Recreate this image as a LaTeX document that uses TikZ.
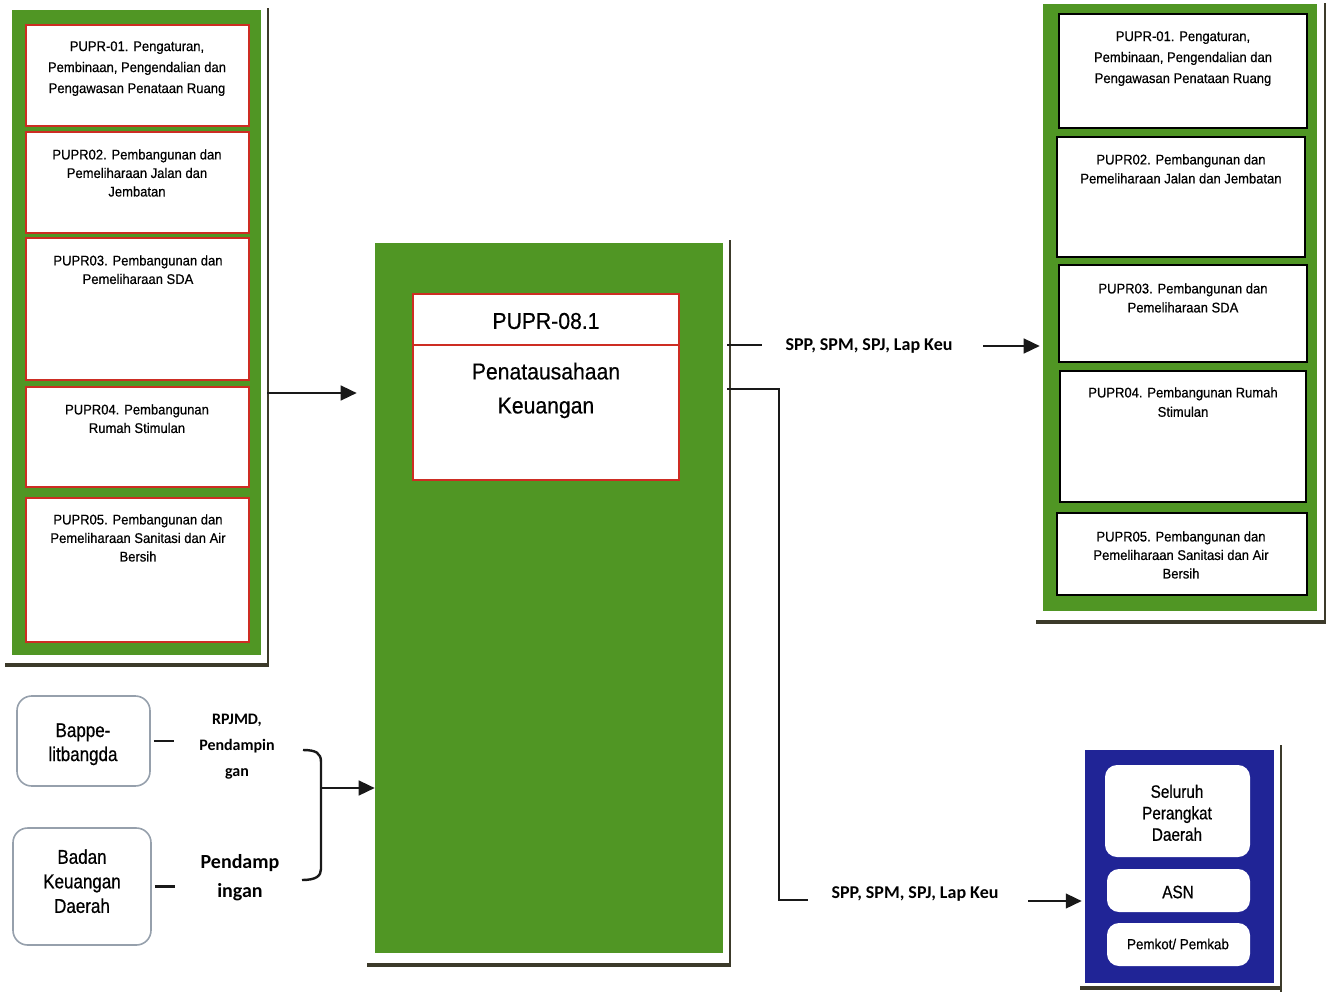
\documentclass[tikz,border=0pt]{standalone}
\usepackage{fontspec}
\setmainfont{Liberation Sans}
\newfontfamily\boxfont{Liberation Sans}[FakeStretch=0.93,FakeBold=0.5]
\newfontfamily\orgfont{Liberation Sans}[FakeStretch=0.85,FakeBold=0.6]
\newfontfamily\titlefont{Liberation Sans}[FakeStretch=0.92,FakeBold=0.5]
\newfontfamily\labelfont{Carlito}
\usetikzlibrary{arrows.meta,fit,calc}
\definecolor{grn}{RGB}{80,150,36}
\definecolor{boxred}{RGB}{205,45,35}
\definecolor{shd}{RGB}{60,58,42}
\definecolor{navy}{RGB}{32,36,150}
\definecolor{orgline}{RGB}{150,160,172}
\begin{document}
\begin{tikzpicture}[x=0.75pt,y=-0.75pt,
  panel/.style={fill=grn, draw=none, inner sep=0pt},
  bluepanel/.style={fill=navy, draw=none, inner sep=0pt},
  redbox/.style={fill=white, draw=boxred, line width=1.1pt, inner sep=0pt},
  finframe/.style={fill=white, draw=boxred, line width=1.5pt, inner sep=0pt},
  blkbox/.style={fill=white, draw=black, line width=2.2pt, inner sep=0pt},
  wbox/.style={fill=white, draw=none, rounded corners=9pt, inner sep=0pt},
  orgbox/.style={fill=white, draw=orgline, line width=1.2pt, rounded corners=11pt, inner sep=0pt},
  shadowR/.style={draw=shd, line width=1.5pt},
  shadowB/.style={draw=shd, line width=2.6pt},
  conn/.style={draw=black!90, line width=1.8pt},
  arr/.style={conn, -{Triangle[length=12pt,width=11pt]}},
  boxtxt/.style={font=\boxfont\fontsize{10.5pt}{13.9pt}\selectfont, align=center, inner sep=0pt, anchor=north},
  boxtxtwide/.style={boxtxt, font=\boxfont\fontsize{10.5pt}{15.75pt}\selectfont},
  orgtxt/.style={font=\orgfont\fontsize{15pt}{18pt}\selectfont, align=center, inner sep=0pt, anchor=north},
  bluetxt/.style={font=\orgfont\fontsize{13.5pt}{16.1pt}\selectfont, align=center, inner sep=0pt},
  smalltxt/.style={font=\titlefont\fontsize{10.9pt}{13pt}\selectfont, inner sep=0pt},
  fintxt/.style={font=\titlefont\fontsize{17.25pt}{25.5pt}\selectfont, align=center, inner sep=0pt},
  flowtxt/.style={font=\labelfont\bfseries\fontsize{13.5pt}{16pt}\selectfont, inner sep=0pt, anchor=base},
]
\useasboundingbox (0,0) rectangle (1330,992);

% ---------- left column of programmes ----------
\draw[shadowR] (268,8) -- (268,667);
\draw[shadowB] (5,665) -- (269,665);
\node[panel, fit={(12,10) (261,655)}] (leftpanel) {};
\node[redbox, fit={(26,25) (249,126)}] (l1) {};
\node[redbox, fit={(26,132) (249,233)}] (l2) {};
\node[redbox, fit={(26,238) (249,380)}] (l3) {};
\node[redbox, fit={(26,387) (249,487)}] (l4) {};
\node[redbox, fit={(26,498) (249,642)}] (l5) {};
\node[boxtxtwide] (l1t) at (137,41) {PUPR-01. Pengaturan,\\Pembinaan, Pengendalian dan\\Pengawasan Penataan Ruang};
\node[boxtxt] (l2t) at (137,149) {PUPR02. Pembangunan dan\\Pemeliharaan Jalan dan\\Jembatan};
\node[boxtxt] (l3t) at (138,255) {PUPR03. Pembangunan dan\\Pemeliharaan SDA};
\node[boxtxt] (l4t) at (137,404) {PUPR04. Pembangunan\\Rumah Stimulan};
\node[boxtxt] (l5t) at (138,514) {PUPR05. Pembangunan dan\\Pemeliharaan Sanitasi dan Air\\Bersih};

% ---------- central unit ----------
\draw[shadowR] (730,240) -- (730,967);
\draw[shadowB] (367,965) -- (731,965);
\node[panel, fit={(375,243) (723,953)}] (midpanel) {};
\node[finframe, fit={(413,294) (679,480)}] (finbox) {};
\coordinate (divy) at (0,345);
\draw[boxred, line width=1.5pt] (finbox.west |- divy) -- (finbox.east |- divy);
\node[fintxt] (fintitle) at (546,321) {PUPR-08.1};
\node[fintxt, anchor=north] (finname) at (546,362.5) {Penatausahaan\\Keuangan};

% ---------- right column of programmes ----------
\draw[shadowR] (1325,3) -- (1325,623);
\draw[shadowB] (1036,622) -- (1326,622);
\node[panel, fit={(1043,4) (1317,611)}] (rightpanel) {};
\node[blkbox, fit={(1059,14) (1307,128)}] (r1) {};
\node[blkbox, fit={(1057,137) (1305,257)}] (r2) {};
\node[blkbox, fit={(1059,265) (1307,362)}] (r3) {};
\node[blkbox, fit={(1060,371) (1306,502)}] (r4) {};
\node[blkbox, fit={(1057,513) (1307,595)}] (r5) {};
\node[boxtxtwide] (r1t) at (1183,31) {PUPR-01. Pengaturan,\\Pembinaan, Pengendalian dan\\Pengawasan Penataan Ruang};
\node[boxtxt, font=\boxfont\fontsize{10.5pt}{14.25pt}\selectfont] (r2t) at (1181,154) {PUPR02. Pembangunan dan\\Pemeliharaan Jalan dan Jembatan};
\node[boxtxt, font=\boxfont\fontsize{10.5pt}{14.25pt}\selectfont] (r3t) at (1183,283) {PUPR03. Pembangunan dan\\Pemeliharaan SDA};
\node[boxtxt, font=\boxfont\fontsize{10.5pt}{14.5pt}\selectfont] (r4t) at (1183,387) {PUPR04. Pembangunan Rumah\\Stimulan};
\node[boxtxt] (r5t) at (1181,531) {PUPR05. Pembangunan dan\\Pemeliharaan Sanitasi dan Air\\Bersih};

% ---------- recipients ----------
\draw[shadowR] (1281,745) -- (1281,992);
\draw[shadowB] (1080,988) -- (1282,988);
\node[bluepanel, fit={(1085,750) (1274,983)}] (bluepanel) {};
\node[wbox, fit={(1105,765) (1250,857)}] (b1) {};
\node[wbox, fit={(1107,869) (1250,912)}] (b2) {};
\node[wbox, fit={(1107,923) (1250,966)}] (b3) {};
\node[bluetxt, anchor=north] (b1t) at (1177,784.5) {Seluruh\\Perangkat\\Daerah};
\node[bluetxt] (b2t) at (1178,892) {ASN};
\node[smalltxt] (b3t) at (1178,944) {Pemkot/ Pemkab};

% ---------- supporting agencies ----------
\node[orgbox, fit={(17,696) (150,786)}] (bappe) {};
\node[orgbox, fit={(13,828) (151,945)}] (bkd) {};
\node[orgtxt] (bappet) at (83,723) {Bappe-\\litbangda};
\node[orgtxt, font=\orgfont\fontsize{15pt}{18.4pt}\selectfont] (bkdt) at (82,849) {Badan\\Keuangan\\Daerah};
\draw[conn] ($(bappe.east)+(3,0)$) -- ++(20,0);
\draw[conn] ($(bkd.east)+(3,0)$) -- ++(20,0);
\node[font=\labelfont\bfseries\fontsize{12pt}{19.5pt}\selectfont, align=center, inner sep=0pt, anchor=north] (rpjmd) at (237,714) {RPJMD,\\Pendampin\\gan};
\node[font=\labelfont\bfseries\fontsize{15pt}{21.75pt}\selectfont, align=center, inner sep=0pt, anchor=north] (pend) at (240,854.5) {Pendamp\\ingan};

% bracket joining both supports
\coordinate (brtop) at (303,750);
\coordinate (brbot) at (302,880);
\coordinate (brmid) at (321,788);
\draw[conn] (brtop) .. controls (316,750) and (321,753) .. (321,762) -- (321,869) .. controls (321,876) and (316,880) .. (brbot);
\draw[arr] (brmid) -- (midpanel.west |- brmid);

% ---------- flows ----------
\coordinate (inA) at (267,393);
\draw[arr] (inA) -- ($(midpanel.west |- inA)+(-18,0)$);

\coordinate (outA) at (727,345);
\coordinate (outAend) at (762,345);
\draw[conn] (outA) -- (outAend);
\node[flowtxt] (lapA) at (869,350) {SPP, SPM, SPJ, Lap Keu};
\coordinate (arrA) at (983,346);
\draw[arr] (arrA) -- ($(rightpanel.west |- arrA)+(-3,0)$);

\coordinate (outB) at (727,389);
\coordinate (cornerB) at (779,900);
\coordinate (outBend) at (808,900);
\draw[conn] (outB) -| (cornerB) -- (outBend);
\node[flowtxt] (lapB) at (915,898) {SPP, SPM, SPJ, Lap Keu};
\coordinate (arrB) at (1028,901);
\draw[arr] (arrB) -- ($(bluepanel.west |- arrB)+(-3,0)$);
\end{tikzpicture}
\end{document}
